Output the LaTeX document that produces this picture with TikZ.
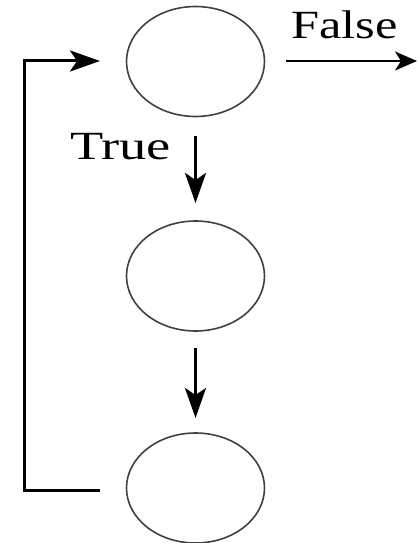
\documentclass[tikz,border=0pt]{standalone}
\usepackage{fontspec}
\setmainfont{Liberation Serif}
\usetikzlibrary{shapes.geometric,arrows.meta}
\begin{document}
\begin{tikzpicture}[x=1pt,y=-1pt,
 state/.style={ellipse,draw=black!75,line width=1.6pt,minimum width=138pt,minimum height=110pt,inner sep=0pt},
 flow/.style={line width=3pt,-{Stealth[length=30pt,width=21pt,inset=7pt]}},
 thin flow/.style={line width=2pt,-{Stealth[length=22pt,width=19pt,inset=6pt]}},
 lbl/.style={font=\fontsize{40}{42}\selectfont,inner sep=0pt}]
\useasboundingbox (0,0) rectangle (417,543);
\node[state] (a) at (195.5,61.5) {};
\node[state] (b) at (195.5,276) {};
\node[state] (c) at (195.5,488) {};
\coordinate (a1) at (195.5,136);
\coordinate (b0) at (195.5,203);
\coordinate (b1) at (195.5,348);
\coordinate (c0) at (195.5,418);
\coordinate (cl) at (100,490);
\coordinate (al) at (100,61);
\coordinate (ar) at (286,61);
\coordinate (out) at (417,61);
\draw[flow] (a1) -- (b0);
\draw[flow] (b1) -- (c0);
\draw[thin flow] (ar) -- (out);
\draw[flow] (cl) -- (24,490) -- (24,61) -- (al);
\node[lbl,xscale=1.26,anchor=base west] (f) at (291,39) {False};
\node[lbl,xscale=1.36,anchor=base west] (t) at (70,159) {True};
\end{tikzpicture}
\end{document}
